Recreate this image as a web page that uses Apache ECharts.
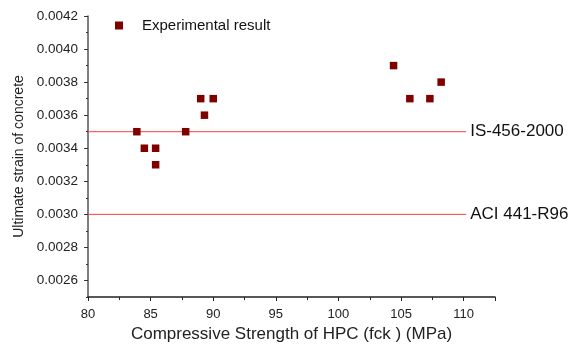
<!DOCTYPE html>
<html>
<head>
<meta charset="utf-8">
<script src="https://cdn.jsdelivr.net/npm/echarts@6/dist/echarts.min.js"></script>
<style>
  html, body { margin: 0; padding: 0; background: #fff; }
  #chart { width: 577px; height: 345px; }
</style>
</head>
<body>
<div id="chart"></div>
<script>
// measured points: compressive strength (MPa), ultimate strain
var strength = [83.9, 84.5, 85.4, 85.4, 87.8, 89.0, 89.3, 90.0, 104.4, 105.7, 107.3, 108.2];
var strain = [0.0035, 0.0034, 0.0034, 0.0033, 0.0035, 0.0037, 0.0036, 0.0037, 0.0039, 0.0037, 0.0037, 0.0038];

// code limits drawn as flat lines
var limitNames = ['IS-456-2000', 'ACI 441-R96'];
var limitValues = [0.0035, 0.0030];
var limitRange = [80, 110.2];

var yLabels = [0.0026, 0.0028, 0.0030, 0.0032, 0.0034, 0.0036, 0.0038, 0.0040, 0.0042];

var chart = echarts.init(document.getElementById('chart'));

var points = strength.map(function (x, i) { return [x, strain[i]]; });

var series = [{
    name: 'Experimental result',
    type: 'scatter',
    data: points,
    symbol: 'rect',
    symbolSize: 7.5,
    itemStyle: { color: '#800000', opacity: 1 },
    z: 5
}];

limitNames.forEach(function (name, i) {
    series.push({
        name: name,
        type: 'line',
        data: limitRange.map(function (x) { return [x, limitValues[i]]; }),
        symbol: 'none',
        silent: true,
        lineStyle: { color: '#ff3b3b', width: 1 },
        endLabel: {
            show: true,
            formatter: name,
            color: '#111',
            fontSize: 17,
            fontFamily: 'Liberation Sans',
            distance: 4
        }
    });
});

var option = {
    animation: false,
    textStyle: { fontFamily: 'Liberation Sans' },
    grid: { left: 88, right: 82, top: 16, bottom: 48, outerBoundsMode: 'none' },
    legend: {
        data: [{ name: 'Experimental result', icon: 'rect', itemStyle: { opacity: 1 } }],
        left: 110,
        top: 13,
        itemWidth: 8,
        itemHeight: 8,
        textStyle: { fontSize: 15, color: '#111', padding: [0, 0, 0, 14] }
    },
    xAxis: {
        type: 'value',
        min: 80,
        max: 112.5,
        interval: 5,
        name: 'Compressive Strength of HPC (fck ) (MPa)',
        nameLocation: 'middle',
        nameGap: 28,
        nameTextStyle: { fontSize: 17, color: '#222' },
        axisLine: { lineStyle: { color: '#222', width: 1.5 } },
        axisTick: { length: 4, lineStyle: { color: '#222' } },
        minorTick: { show: true, splitNumber: 2, length: 3, lineStyle: { color: '#222' } },
        axisLabel: {
            color: '#222',
            fontSize: 13,
            margin: 11,
            showMaxLabel: false,
            formatter: function (v) { return v % 5 === 0 ? String(v) : ''; }
        },
        splitLine: { show: false }
    },
    yAxis: [{
        type: 'value',
        min: 0.0025,
        max: 0.0042,
        interval: 0.0001,
        name: 'Ultimate strain of concrete',
        nameLocation: 'middle',
        nameGap: 60,
        nameTextStyle: { fontSize: 14, color: '#222' },
        axisLine: { lineStyle: { color: '#555', width: 1.5 } },
        axisTick: { customValues: yLabels, length: 4, lineStyle: { color: '#333' } },
        axisLabel: {
            customValues: yLabels,
            color: '#222',
            fontSize: 13.5,
            margin: 10,
            formatter: function (v) { return v.toFixed(4); }
        },
        splitLine: { show: false }
    }, {
        type: 'value',
        position: 'left',
        min: 0.0025,
        max: 0.0042,
        interval: 0.0001,
        axisLine: { show: false },
        axisTick: { length: 2, lineStyle: { color: '#333' } },
        axisLabel: { show: false },
        splitLine: { show: false }
    }],
    series: series
};

chart.setOption(option);
</script>
</body>
</html>
